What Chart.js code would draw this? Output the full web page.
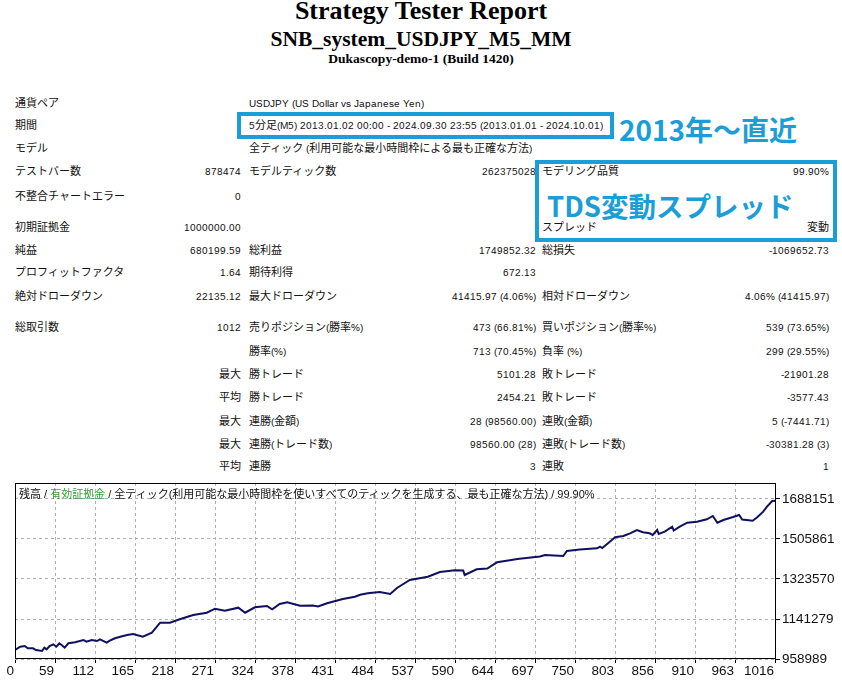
<!DOCTYPE html>
<html>
<head>
<meta charset="utf-8">
<title>Strategy Tester Report</title>
<script src="https://cdn.jsdelivr.net/npm/chart.js@4.4.1/dist/chart.umd.min.js"></script>
<style>
    @font-face {
        font-family: "RptLatin";
        src: local("Liberation Sans"), local("LiberationSans");
        size-adjust: 91%;
    }
    html, body { margin: 0; padding: 0; background: #fff; }
    body {
        width: 842px; height: 682px; position: relative; overflow: hidden;
        font-family: "Liberation Sans", "Noto Sans CJK JP", sans-serif; color: #111;
    }
    .hd {
        position: absolute; left: 0; width: 842px; text-align: center; white-space: nowrap;
        font-family: "Liberation Serif", serif; font-weight: bold; color: #000;
    }
    .row {
        position: absolute; left: 0; width: 842px; height: 16px; line-height: 16px; font-size: 11px;
        font-family: "RptLatin", "Liberation Sans", "Noto Sans CJK JP", sans-serif;
    }
    .row span { position: absolute; top: 0; white-space: nowrap; }
    .c1 { left: 15px; }
    .c2 { right: 601px; }
    .c3 { left: 249px; }
    .c4 { right: 306px; }
    .c5 { left: 542px; }
    .c6 { right: 13px; }
    .box { position: absolute; border: 4px solid #1b9ed8; box-sizing: border-box; }
    .note {
        position: absolute; white-space: nowrap; color: #1b9ed8;
        font-family: "Noto Sans CJK JP", sans-serif; font-weight: 700; line-height: 30px;
    }
    #chart-wrap { position: absolute; left: 0; top: 478px; width: 842px; height: 204px; }
    #chart-legend {
        position: absolute; left: 19px; top: 487px; white-space: nowrap;
        font-size: 11px; line-height: 15px; color: #111;
    }
    #chart-legend .eq { color: #3a9a3a; }
</style>
</head>
<body>

<div class="hd" style="top:-2px; font-size:26px; line-height:26px;">Strategy Tester Report</div>
<div class="hd" style="top:29px; font-size:21.5px; line-height:21.5px;">SNB_system_USDJPY_M5_MM</div>
<div class="hd" style="top:52px; font-size:13.5px; line-height:13.5px;">Dukascopy-demo-1 (Build 1420)</div>

<div id="report"></div>

<div class="box" style="left:237px; top:112px; width:377px; height:27px;"></div>
<div class="box" style="left:535px; top:160px; width:302px; height:82px;"></div>
<div class="note" style="left:619px; top:114px; font-size:28px;">2013年〜直近</div>
<div class="note" style="left:547px; top:190px; font-size:27.5px;">TDS変動スプレッド</div>

<div id="chart-wrap"><canvas id="balance-chart" width="842" height="204"></canvas></div>
<div id="chart-legend">残高 / <span class="eq">有効証拠金</span> / 全ティック(利用可能な最小時間枠を使いすべてのティックを生成する、最も正確な方法) / 99.90%</div>

<script>
// report table: [row y, label, value, label, value, label, value]
const reportRows = [
    [104, '通貨ペア', '', 'USDJPY (US Dollar vs Japanese Yen)', '', '', ''],
    [126, '期間', '', '5分足(M5) 2013.01.02 00:00 - 2024.09.30 23:55 (2013.01.01 - 2024.10.01)', '', '', ''],
    [149, 'モデル', '', '全ティック (利用可能な最小時間枠による最も正確な方法)', '', '', ''],
    [172, 'テストバー数', '878474', 'モデルティック数', '262375028', 'モデリング品質', '99.90%'],
    [197, '不整合チャートエラー', '0', '', '', '', ''],
    [228, '初期証拠金', '1000000.00', '', '', 'スプレッド', '変動'],
    [251, '純益', '680199.59', '総利益', '1749852.32', '総損失', '-1069652.73'],
    [273, 'プロフィットファクタ', '1.64', '期待利得', '672.13', '', ''],
    [297, '絶対ドローダウン', '22135.12', '最大ドローダウン', '41415.97 (4.06%)', '相対ドローダウン', '4.06% (41415.97)'],
    [328, '総取引数', '1012', '売りポジション(勝率%)', '473 (66.81%)', '買いポジション(勝率%)', '539 (73.65%)'],
    [352, '', '', '勝率(%)', '713 (70.45%)', '負率 (%)', '299 (29.55%)'],
    [375, '', '最大', '勝トレード', '5101.28', '敗トレード', '-21901.28'],
    [398, '', '平均', '勝トレード', '2454.21', '敗トレード', '-3577.43'],
    [422, '', '最大', '連勝(金額)', '28 (98560.00)', '連敗(金額)', '5 (-7441.71)'],
    [445, '', '最大', '連勝(トレード数)', '98560.00 (28)', '連敗(トレード数)', '-30381.28 (3)'],
    [467, '', '平均', '連勝', '3', '連敗', '1'],
];

// chart data (trade number / balance)
const xTickLabels = ['0', '59', '112', '165', '218', '271', '324', '378', '431', '484',
                     '537', '590', '644', '697', '750', '803', '856', '910', '963', '1016'];
const xGridStep = 53.2;
const totalTrades = 1012;
const yTickValues = [958989, 1141279, 1323570, 1505861, 1688151];
const yMin = 958989;
const yMax = 1761067;

const tradeNo = [
    0, 7, 13, 17, 24, 28, 36, 39, 42, 46,
    51, 55, 59, 62, 66, 71, 80, 91, 95, 102,
    109, 113, 122, 126, 133, 140, 149, 157, 170, 182,
    193, 206, 219, 237, 255, 266, 279, 297, 306, 319,
    335, 342, 352, 362, 379, 396, 403, 415, 436, 452,
    459, 469, 485, 499, 508, 525, 549, 565, 585, 596,
    598, 614, 628, 641, 658, 668, 698, 705, 729, 734,
    751, 774, 778, 781, 791, 798, 809, 818, 827, 835,
    844, 848, 854, 856, 864, 874, 876, 884, 894, 907,
    920, 928, 934, 942, 955, 963, 967, 981, 987, 995,
    1000, 1007, 1012
];
const balance = [
    1000000, 1015000, 1018200, 1007800, 1007800, 1000000, 995400, 1010500, 1003200, 1018200,
    1026000, 1015000, 1030500, 1022800, 1010500, 1030500, 1035100, 1045600, 1037800, 1045600,
    1041000, 1048800, 1033300, 1042400, 1053300, 1060600, 1068400, 1072900, 1060600, 1078800,
    1124400, 1124400, 1139900, 1159500, 1170000, 1188200, 1179100, 1192800, 1170000, 1194600,
    1200500, 1185500, 1209600, 1217400, 1201900, 1202800, 1198200, 1212800, 1232400, 1242900,
    1252000, 1258400, 1264300, 1255200, 1282600, 1319000, 1334100, 1355500, 1363200, 1362300,
    1341800, 1367800, 1371400, 1399700, 1408800, 1414700, 1426100, 1432900, 1428400, 1451200,
    1458000, 1463500, 1470800, 1464800, 1493600, 1513600, 1519500, 1531800, 1546900, 1536400,
    1531800, 1524100, 1546900, 1528600, 1539100, 1561900, 1544600, 1561900, 1580100, 1584700,
    1595600, 1610700, 1580100, 1592400, 1606100, 1615200, 1594700, 1589300, 1604800, 1630300,
    1653100, 1679000, 1680200
];

function buildReport() {
    const report = document.getElementById('report');
    const cls = ['c1', 'c2', 'c3', 'c4', 'c5', 'c6'];
    reportRows.forEach(r => {
        const row = document.createElement('div');
        row.className = 'row';
        row.style.top = (r[0] - 8) + 'px';
        r.slice(1).forEach((txt, i) => {
            if (!txt) return;
            const s = document.createElement('span');
            s.className = cls[i];
            s.textContent = txt;
            row.appendChild(s);
        });
        report.appendChild(row);
    });
}

// solid box round the plot area, like the tester graph
const plotFrame = {
    id: 'plotFrame',
    afterDatasetsDraw(chart) {
        const { ctx, chartArea: a } = chart;
        ctx.save();
        ctx.strokeStyle = '#000';
        ctx.lineWidth = 1;
        ctx.strokeRect(a.left + 0.5, a.top + 0.5, a.right - a.left - 1, a.bottom - a.top - 1);
        ctx.restore();
    }
};

function drawBalanceChart() {
    const ctx = document.getElementById('balance-chart').getContext('2d');
    const tickFont = { family: '"Liberation Sans", sans-serif', size: 13.5 };

    return new Chart(ctx, {
        type: 'line',
        data: {
            datasets: [{
                data: tradeNo.map((t, i) => ({ x: t, y: balance[i] })),
                borderColor: '#10105e',
                borderWidth: 2,
                pointRadius: 0,
            }],
        },
        options: {
            responsive: false,
            animation: false,
            layout: { padding: { left: 15, top: 5, right: 0, bottom: 0 } },
            plugins: { legend: { display: false }, tooltip: { enabled: false } },
            scales: {
                x: {
                    type: 'linear',
                    min: 0,
                    max: totalTrades,
                    afterBuildTicks: s => {
                        s.ticks = xTickLabels.map((l, i) => ({ value: i * xGridStep }));
                    },
                    afterFit: s => { s.height = 23; s.paddingLeft = 0; s.paddingRight = 0; },
                    grid: { color: '#b0b0b0', lineWidth: 1, tickColor: '#000', tickLength: 4 },
                    border: { display: false, dash: [3, 3] },
                    ticks: {
                        autoSkip: false,
                        maxRotation: 0,
                        align: 'end',
                        labelOffset: -1,
                        padding: 0,
                        color: '#111',
                        font: tickFont,
                        callback: (v, i) => xTickLabels[i],
                    },
                },
                y: {
                    position: 'right',
                    min: yMin,
                    max: yMax,
                    afterBuildTicks: s => {
                        s.ticks = yTickValues.map(v => ({ value: v }));
                    },
                    afterFit: s => { s.width = 66; s.paddingTop = 0; s.paddingBottom = 0; },
                    grid: { color: '#b0b0b0', lineWidth: 1, tickColor: '#000', tickLength: 4 },
                    border: { display: false, dash: [3, 3] },
                    ticks: {
                        padding: 2,
                        color: '#111',
                        font: tickFont,
                        callback: v => String(v),
                    },
                },
            },
        },
        plugins: [plotFrame],
    });
}

buildReport();
const balanceChart = drawBalanceChart();
</script>
</body>
</html>
